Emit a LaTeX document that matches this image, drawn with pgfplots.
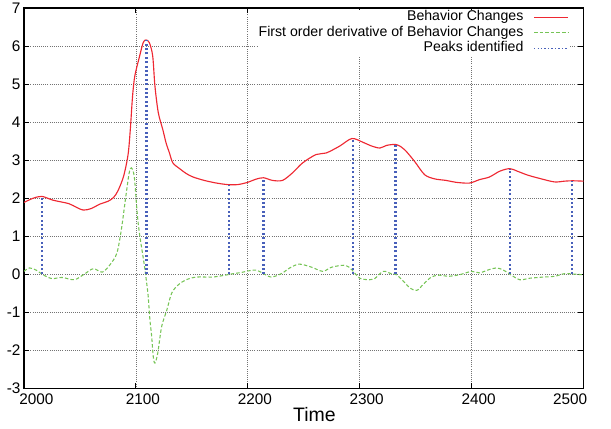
\documentclass[border=0pt]{standalone}
\usepackage{fontspec}
\setmainfont{Liberation Sans}
\usepackage{pgfplots}
\pgfplotsset{compat=1.18}
\definecolor{bcred}{RGB}{238,40,50}
\definecolor{bcgreen}{RGB}{118,196,86}
\definecolor{bcblue}{RGB}{72,96,186}
\begin{document}
\begin{tikzpicture}
\begin{axis}[
  scale only axis,
  width=419.6pt, height=285.4pt,
  xmin=2000, xmax=2500, ymin=-3, ymax=7,
  xtick={2000,2100,2200,2300,2400,2500},
  xticklabels={{\hspace*{8pt}2000},2100,2200,2300,2400,{2500\hspace*{30.6pt}}},
  xticklabel style={xshift=5.25pt},
  ytick={-3,-2,-1,0,1,2,3,4,5,6,7},
  /pgf/number format/assume math mode=true,
  ticklabel style={font=\fontsize{11.5}{13}\selectfont},
  yticklabel style={inner xsep=2.5pt},
  grid=major,
  grid style={line width=0.6pt, densely dotted, black!55},
  axis line style={line width=1pt, black},
  tick align=inside,
  major tick length=4pt,
  tick style={line width=0.8pt, black},
  xlabel={Time},
  xlabel style={font=\fontsize{14.6}{16}\selectfont, at={(axis description cs:0.519,0)}, anchor=base, yshift=-24.4pt},
  legend plot pos=right,
  legend cell align=right,
  legend image code/.code={\draw[#1] (0pt,0pt) -- (25.5pt,0pt);},
  legend style={at={(axis description cs:1,1)}, anchor=north east, xshift=-10.9pt, yshift=-1pt,
    draw=none, fill=white, inner sep=0pt, row sep=0pt, column sep=7pt,
    font=\fontsize{10.6}{12}\selectfont,
    nodes={inner sep=0.5pt, text height=8pt, text depth=2.6pt}},
]
\addplot[bcred, line width=0.85pt, smooth, tension=0.5] coordinates {
(2000,1.89) (2008,2.00) (2016,2.05) (2026,1.95) (2040,1.86) (2047,1.76) (2053,1.69)
(2060,1.73) (2068,1.85) (2075,1.92) (2080,2.02) (2084,2.20) (2089,2.58) (2093,3.15)
(2095,3.81) (2097,4.68) (2099,5.21) (2103,5.70) (2106.5,6.09) (2109,6.16) (2112,6.09)
(2115,5.74) (2117,4.95) (2120,4.25) (2124,3.81) (2127,3.45) (2130,3.19) (2133,2.93)
(2139,2.78) (2145,2.65) (2151,2.56) (2161,2.47) (2172,2.40) (2182,2.36) (2191,2.36)
(2200,2.42) (2207,2.50) (2214,2.54) (2222,2.47) (2231,2.47) (2240,2.67) (2249,2.93)
(2261,3.15) (2270,3.19) (2282,3.37) (2293,3.57) (2303,3.47) (2310,3.38) (2318,3.32)
(2324,3.39) (2333,3.41) (2340,3.28) (2349,2.97) (2358,2.62) (2367,2.51) (2377,2.47)
(2386,2.42) (2398,2.40) (2407,2.49) (2416,2.56) (2425,2.71) (2434,2.78) (2441,2.71)
(2450,2.61) (2461,2.52) (2474,2.43) (2483,2.45) (2490,2.46) (2500,2.45)
};
\addlegendentry{Behavior Changes}
\addplot[bcgreen, line width=0.8pt, dash pattern=on 2.6pt off 1.6pt, smooth, tension=0.5] coordinates {
(2000,0.08) (2005,0.17) (2011,0.11) (2017,-0.01) (2025,-0.11) (2034,-0.08) (2045,-0.14)
(2054,0.01) (2062,0.15) (2070,0.06) (2077,0.26) (2083,0.56) (2087,1.18) (2091,2.05)
(2094,2.67) (2096,2.80) (2098.5,2.58) (2100.5,1.85) (2102,1.35) (2104,0.91) (2107.5,0.25)
(2109.5,-0.20) (2111,-0.58) (2112.5,-1.19) (2114,-1.60) (2115.5,-2.16) (2117,-2.33)
(2119.5,-2.07) (2123,-1.37) (2127.5,-0.95) (2132,-0.49) (2138,-0.27) (2145,-0.14)
(2154,-0.07) (2168,-0.07) (2178,-0.03) (2185,0.01) (2194,0.05) (2202,0.10) (2208,0.11)
(2214,0.02) (2221,-0.07) (2230,0.02) (2237.5,0.17) (2246,0.27) (2257,0.19) (2267,0.08)
(2275,0.19) (2287,0.24) (2293,0.12) (2300,-0.10) (2309,-0.14) (2313,-0.12) (2321,0.08)
(2328,0.02) (2333,-0.01) (2339,-0.18) (2345,-0.36) (2351,-0.42) (2356.5,-0.27)
(2364,-0.07) (2371,-0.02) (2379,-0.05) (2389,-0.01) (2400,0.08) (2407,0.04) (2415,0.12)
(2422,0.17) (2428,0.12) (2434,0.01) (2443,-0.14) (2452,-0.10) (2464,-0.07) (2474,-0.05)
(2483,0.02) (2490,0.01) (2500,-0.01)
};
\addlegendentry{First order derivative of Behavior Changes}
\addplot[bcblue, ycomb, line width=1.6pt, dash pattern=on 1.5pt off 1.8pt,
  legend image code/.code={\draw[bcblue, line width=1pt, dash pattern=on 1pt off 1.6pt] (0pt,0pt) -- (25.5pt,0pt);}] coordinates {
(2016,2.05) (2109.5,6.16) (2183,2.36) (2214,2.54) (2294,3.57) (2332,3.41) (2434,2.78) (2490,2.46)
};
\addlegendentry{Peaks identified}
\end{axis}
\pgfresetboundingbox
\path ([xshift=-18pt,yshift=-29.6pt]current axis.south west) rectangle ([xshift=20.6pt,yshift=6pt]current axis.north east);
\end{tikzpicture}
\end{document}
